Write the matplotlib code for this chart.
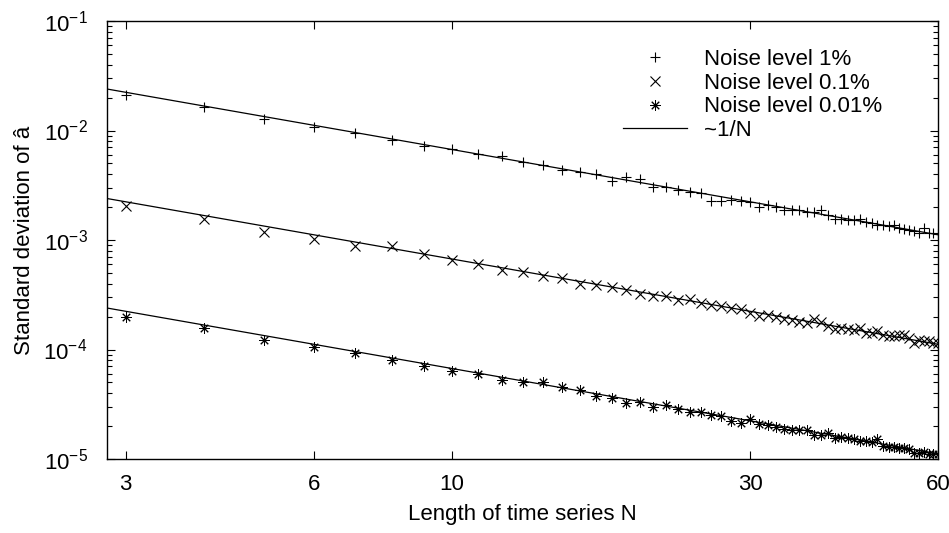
import numpy as np
import matplotlib
matplotlib.use('Agg')
import matplotlib.pyplot as plt
from matplotlib.ticker import FixedLocator, NullLocator, LogLocator, FixedFormatter

plt.rcParams['font.family'] = ['Liberation Sans', 'DejaVu Sans']
plt.rcParams['mathtext.fontset'] = 'custom'
plt.rcParams['mathtext.rm'] = 'Liberation Sans'
plt.rcParams['mathtext.it'] = 'Liberation Sans:italic'
plt.rcParams['mathtext.default'] = 'regular'

# Length of time series N (one point per integer N)
n_points = list(range(3, 61))

# Standard deviation for noise level 1% (units of 1e-3)
noise_1pct = [21.0, 16.26, 12.64, 10.73, 9.53, 8.15, 7.29, 6.80, 6.12, 5.81,
              5.16, 4.80, 4.39, 4.14, 4.04, 3.48, 3.77, 3.61, 3.06, 3.05,
              2.88, 2.74, 2.68, 2.25, 2.29, 2.33, 2.28, 2.24, 2.02, 2.07,
              2.02, 1.86, 1.86, 1.86, 1.80, 1.82, 1.88, 1.70, 1.55, 1.55,
              1.53, 1.51, 1.55, 1.46, 1.43, 1.36, 1.36, 1.34, 1.37, 1.28,
              1.26, 1.24, 1.21, 1.17, 1.28, 1.17, 1.15, 1.13]

# Noise level 0.1% (units of 1e-4)
noise_01pct = [20.5, 15.5, 11.8, 10.2, 8.9, 8.8, 7.40, 6.56, 5.99, 5.30,
               5.13, 4.70, 4.47, 4.00, 3.89, 3.72, 3.53, 3.18, 3.08, 3.05,
               2.83, 2.88, 2.64, 2.53, 2.50, 2.38, 2.33, 2.14, 2.02, 2.05,
               1.96, 1.89, 1.86, 1.78, 1.73, 1.91, 1.78, 1.64, 1.53, 1.58,
               1.55, 1.52, 1.58, 1.42, 1.42, 1.47, 1.37, 1.33, 1.33, 1.37,
               1.36, 1.27, 1.15, 1.23, 1.20, 1.19, 1.15, 1.14]

# Noise level 0.01% (units of 1e-5)
noise_001pct = [19.8, 15.7, 12.3, 10.65, 9.31, 8.10, 7.03, 6.42, 6.03, 5.30,
                5.01, 5.01, 4.58, 4.27, 3.73, 3.61, 3.24, 3.35, 3.00, 3.13,
                2.86, 2.66, 2.67, 2.53, 2.48, 2.23, 2.11, 2.31, 2.08, 2.05,
                1.94, 1.87, 1.83, 1.83, 1.83, 1.66, 1.66, 1.74, 1.55, 1.59,
                1.55, 1.52, 1.46, 1.45, 1.42, 1.52, 1.32, 1.29, 1.29, 1.27,
                1.26, 1.23, 1.14, 1.14, 1.15, 1.12, 1.12, 1.10]

# ~1/N fit: sigma = coef / N
fit_coefs = [0.067, 0.0067, 0.00067]

x_ticks = [3, 6, 10, 30, 60]
x_tick_labels = ['3', '6', '10', '30', '60']

W, H = 949, 533
fig = plt.figure(figsize=(W / 100, H / 100), dpi=100)
ax = fig.add_axes([107 / W, 1 - 459 / H, (938 - 107) / W, (459 - 21) / H])

N = np.array(n_points)
series = [
    (np.array(noise_1pct) * 1e-3, '+', 6.5, 0.8, 'Noise level 1%'),
    (np.array(noise_01pct) * 1e-4, 'x', 6.5, 0.8, 'Noise level 0.1%'),
    (np.array(noise_001pct) * 1e-5, (8, 2, 0), 7.5, 0.7, 'Noise level 0.01%'),
]
for vals, mk, ms, mew, lab in series:
    ax.plot(N, vals, linestyle='none', marker=mk, markersize=ms,
            markeredgewidth=mew, color='black', label=lab)

xmin, xmax = 2.8, 60
xx = np.geomspace(xmin, xmax, 200)
for i, c in enumerate(fit_coefs):
    ax.plot(xx, c / xx, color='black', linewidth=0.9,
            label='~1/N' if i == 0 else None)

ax.set_xscale('log')
ax.set_yscale('log')
ax.set_xlim(xmin, xmax)
ax.set_ylim(1e-5, 1e-1)

ax.xaxis.set_major_locator(FixedLocator(x_ticks))
ax.xaxis.set_major_formatter(FixedFormatter(x_tick_labels))
ax.xaxis.set_minor_locator(NullLocator())
ax.yaxis.set_major_locator(LogLocator(base=10, numticks=10))
ax.yaxis.set_minor_locator(LogLocator(base=10, subs=np.arange(2, 10), numticks=10))

ax.tick_params(which='both', direction='in', top=True, right=True, width=0.8)
ax.tick_params(which='major', length=6, labelsize=16)
ax.tick_params(which='minor', length=3.5)
ax.tick_params(axis='y', which='major', pad=14)
ax.tick_params(axis='x', which='major', pad=11)
for sp in ax.spines.values():
    sp.set_linewidth(1.0)

ax.set_xlabel('Length of time series N', fontsize=16, labelpad=6)
ax.set_ylabel('Standard deviation of \u00e2', fontsize=16, labelpad=6)

leg = ax.legend(loc='upper left', bbox_to_anchor=(623 / W, 1 - 49 / H),
                bbox_transform=fig.transFigure, frameon=False, fontsize=16,
                handlelength=2.9, handletextpad=0.75, labelspacing=0.12,
                borderpad=0, borderaxespad=0, numpoints=1)

fig.savefig('out.png', dpi=100)
